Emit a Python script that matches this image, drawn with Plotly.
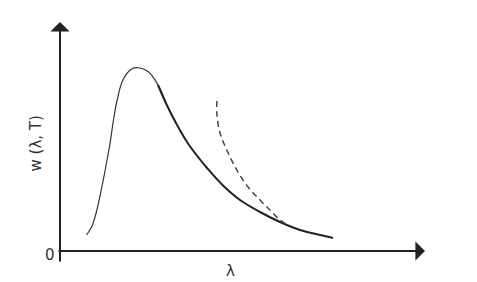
import plotly.graph_objects as go

# Planck-like curve (solid), thin rising part and thicker falling part
lam_rise = [0.667, 0.8, 0.9, 1.0, 1.125, 1.25, 1.333, 1.417, 1.575, 1.79, 1.96, 2.21, 2.45, 2.67]
w_rise = [0.64, 1.0, 1.5, 2.2, 3.2, 4.3, 5.2, 5.95, 6.85, 7.28, 7.33, 7.17, 6.64, 5.84]

lam_fall = [2.45, 2.67, 2.92, 3.2, 3.5, 3.675, 4.075, 4.5, 5.0, 5.5, 6.0, 6.5, 6.825]
w_fall = [6.64, 5.84, 5.06, 4.3, 3.66, 3.32, 2.62, 2.04, 1.56, 1.16, 0.84, 0.64, 0.52]

# Classical (Rayleigh-Jeans-like) curve, dashed
lam_dash = [3.925, 3.92, 4.0, 4.17, 4.42, 4.7, 5.0, 5.25, 5.5, 5.7]
w_dash = [6.0, 5.52, 4.72, 4.04, 3.24, 2.56, 2.04, 1.64, 1.24, 1.04]

# Axis extents (data units)
x_axis_end = 9.125
y_axis_end = 9.16

ink = "#222222"

fig = go.Figure()
fig.add_trace(go.Scatter(x=lam_rise, y=w_rise, mode="lines",
                         line=dict(color="#333333", width=1.2, shape="spline", smoothing=1.0),
                         showlegend=False, hoverinfo="skip"))
fig.add_trace(go.Scatter(x=lam_fall, y=w_fall, mode="lines",
                         line=dict(color=ink, width=2, shape="spline", smoothing=1.0),
                         showlegend=False, hoverinfo="skip"))
fig.add_trace(go.Scatter(x=lam_dash, y=w_dash, mode="lines",
                         line=dict(color="#444444", width=1.5, dash="6px,4px", shape="spline"),
                         showlegend=False, hoverinfo="skip"))

# axes with arrowheads
fig.add_annotation(x=x_axis_end, y=0, ax=-0.075, ay=0, xref="x", yref="y",
                   axref="x", ayref="y", showarrow=True, arrowhead=1,
                   arrowsize=1.6, arrowwidth=2, arrowcolor=ink, text="")
fig.add_annotation(x=0, y=y_axis_end, ax=0, ay=-0.48, xref="x", yref="y",
                   axref="x", ayref="y", showarrow=True, arrowhead=1,
                   arrowsize=1.6, arrowwidth=2, arrowcolor=ink, text="")

# labels
fig.add_annotation(x=-0.25, y=-0.16, text="0", showarrow=False, xanchor="center",
                   yanchor="middle", font=dict(size=15, color="#333333", family="DejaVu Sans"))
fig.add_annotation(x=-0.625, y=4.3, text="w (λ, T)", showarrow=False, textangle=-90,
                   font=dict(size=15, color="#333333", family="DejaVu Sans"))
fig.add_annotation(x=4.25, y=-0.8, text="λ", showarrow=False,
                   font=dict(size=15, color="#333333", family="DejaVu Sans"))

fig.update_layout(
    width=477, height=282,
    margin=dict(l=0, r=0, t=0, b=0),
    paper_bgcolor="white", plot_bgcolor="white",
    xaxis=dict(range=[-1.5, 10.425], visible=False, fixedrange=True),
    yaxis=dict(range=[-1.24, 10.04], visible=False, fixedrange=True),
)

fig.write_html("out.html")
